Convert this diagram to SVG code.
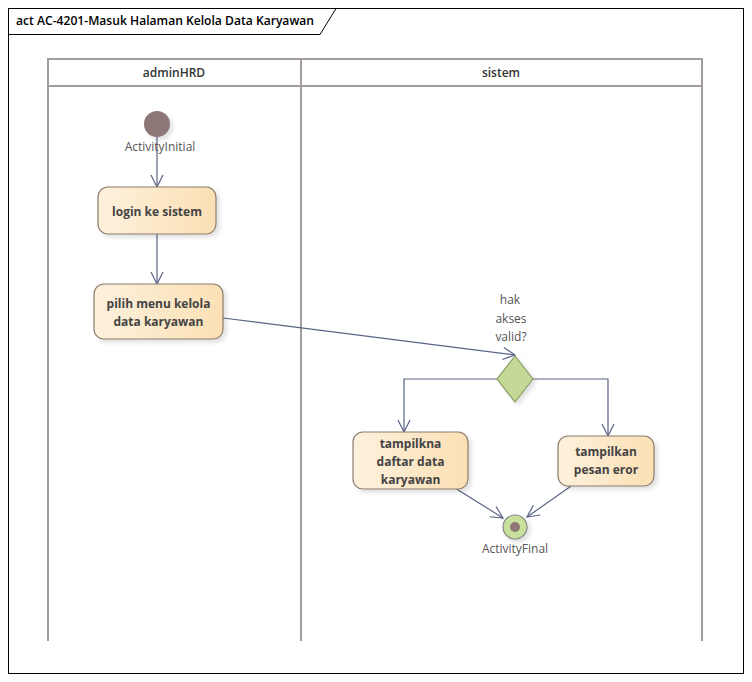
<svg xmlns="http://www.w3.org/2000/svg" width="752" height="682" viewBox="0 0 752 682">
<defs>
<linearGradient id="act" x1="0" y1="0" x2="1" y2="0">
<stop offset="0" stop-color="#fdf1dd"/>
<stop offset="1" stop-color="#fbe0b4"/>
</linearGradient>
<filter id="sh" x="-20%" y="-20%" width="150%" height="150%">
<feDropShadow dx="3" dy="3" stdDeviation="2" flood-color="#000" flood-opacity="0.12"/>
</filter>
<marker id="arr" viewBox="0 0 14 14" refX="13" refY="7" markerWidth="14" markerHeight="14" markerUnits="userSpaceOnUse" orient="auto">
<path d="M1,1 L13,7 L1,13" fill="none" stroke="#5a6485" stroke-width="1.2"/>
</marker>
<style>
.frame{fill:#fff;stroke:#000;stroke-width:1}
.lane{fill:none;stroke:#a39c9c;stroke-width:2}
.act{fill:url(#act);stroke:#8c7c6c;stroke-width:1.2;filter:url(#sh)}
.t{font-family:"Open Sans","Liberation Sans",sans-serif;font-size:12px;font-weight:bold;fill:#444;text-anchor:middle}
.lbl{font-family:"Open Sans","Liberation Sans",sans-serif;font-size:12px;fill:#555;text-anchor:middle}
.hdr{font-family:"Open Sans","Liberation Sans",sans-serif;font-size:12px;font-weight:600;fill:#333;text-anchor:middle}
.e{fill:none;stroke:#5a6485;stroke-width:1.2;marker-end:url(#arr)}
</style>
</defs>
<rect x="0" y="0" width="752" height="682" fill="#fff"/>
<rect class="frame" x="8.5" y="8.5" width="735" height="665"/>
<path d="M8.5,34.5 L320,34.5 L336,8.5" fill="none" stroke="#000" stroke-width="1"/>
<text x="16" y="25" font-family="'Open Sans','Liberation Sans',sans-serif" font-size="12.5px" font-weight="600" fill="#000" textLength="298" lengthAdjust="spacingAndGlyphs">act AC-4201-Masuk Halaman Kelola Data Karyawan</text>
<g id="lanes">
<rect class="lane" x="48" y="59" width="654" height="27"/>
<line class="lane" x1="48" y1="86" x2="48" y2="641"/>
<line class="lane" x1="301" y1="59" x2="301" y2="641"/>
<line class="lane" x1="702" y1="86" x2="702" y2="641"/>
<text class="hdr" x="174" y="77">adminHRD</text>
<text class="hdr" x="501" y="77">sistem</text>
</g>
<g id="connectors">
<line class="e" x1="157" y1="137" x2="157" y2="187"/>
<line class="e" x1="157" y1="234" x2="157" y2="284"/>
<line class="e" x1="223" y1="318" x2="515" y2="355"/>
<polyline class="e" points="497,379 404,379 404,432"/>
<polyline class="e" points="533,379 608,379 608,436"/>
<line class="e" x1="455" y1="488" x2="503" y2="518"/>
<line class="e" x1="574" y1="484" x2="527" y2="517"/>
</g>
<g id="initial">
<circle cx="157" cy="124" r="13" fill="#8f7676" filter="url(#sh)"/>
<text class="lbl" x="160" y="151">ActivityInitial</text>
</g>
<g id="login">
<rect class="act" x="98" y="187" width="118" height="47" rx="10"/>
<text class="t" x="157" y="216">login ke sistem</text>
</g>
<g id="pilih">
<rect class="act" x="94" y="284" width="129" height="55" rx="10"/>
<text class="t" x="158.5" y="308">pilih menu kelola</text>
<text class="t" x="158.5" y="326">data karyawan</text>
</g>
<g id="decision">
<polygon points="515,356 533,379 515,402 497,379" fill="#c5d996" stroke="#8a9c66" stroke-width="1.2" filter="url(#sh)"/>
<text class="lbl" x="510" y="304">hak</text>
<text class="lbl" x="511" y="323">akses</text>
<text class="lbl" x="511" y="341">valid?</text>
</g>
<g id="tampilkna">
<rect class="act" x="353" y="432" width="115" height="57" rx="10"/>
<text class="t" x="410.5" y="448">tampilkna</text>
<text class="t" x="410.5" y="466">daftar data</text>
<text class="t" x="410.5" y="484">karyawan</text>
</g>
<g id="tampilkan">
<rect class="act" x="558" y="436" width="96" height="50" rx="10"/>
<text class="t" x="606" y="456">tampilkan</text>
<text class="t" x="606" y="474">pesan eror</text>
</g>
<g id="final">
<circle cx="515" cy="527" r="12" fill="#c9df9c" stroke="#8a8a8a" stroke-width="1.2" filter="url(#sh)"/>
<circle cx="515" cy="527" r="5" fill="#8f7676"/>
<text class="lbl" x="515" y="553">ActivityFinal</text>
</g>
</svg>
